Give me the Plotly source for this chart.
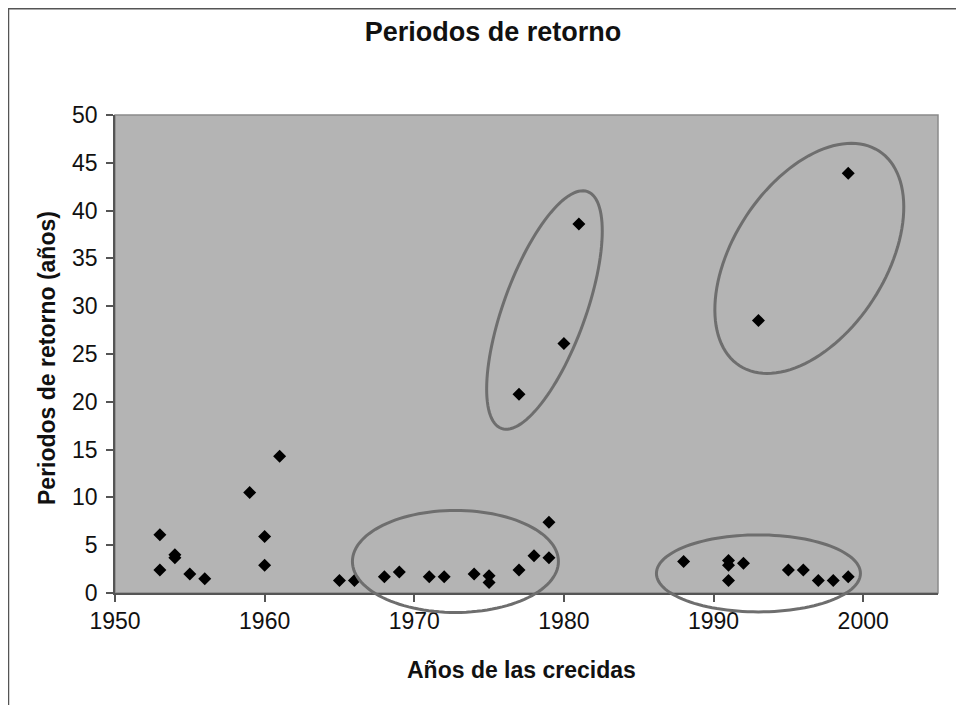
import numpy as np
import plotly.graph_objects as go

# ---- data ----
years = [1953, 1953, 1954, 1954, 1955, 1956, 1959, 1960, 1960, 1961,
         1965, 1966, 1968, 1969, 1971, 1972, 1974, 1975, 1975, 1977,
         1977, 1978, 1979, 1979, 1980, 1981, 1988, 1991, 1991, 1991,
         1992, 1993, 1995, 1996, 1997, 1998, 1999, 1999]
periods = [6.1, 2.4, 3.7, 4.0, 2.0, 1.5, 10.5, 5.9, 2.9, 14.3,
           1.3, 1.3, 1.7, 2.2, 1.7, 1.7, 2.0, 1.8, 1.1, 2.4,
           20.8, 3.9, 3.7, 7.4, 26.1, 38.6, 3.3, 3.4, 2.9, 1.3,
           3.1, 28.5, 2.4, 2.4, 1.3, 1.3, 1.7, 43.9]

x_ticks = [1950, 1960, 1970, 1980, 1990, 2000]
y_ticks = [0, 5, 10, 15, 20, 25, 30, 35, 40, 45, 50]

title = "Periodos de retorno"
x_title = "Años de las crecidas"
y_title = "Periodos de retorno (años)"

# group highlight ellipses: centre (year, value)
ellipse_centres = [(1972.75, 3.3), (1993.0, 2.05), (1978.7, 29.6), (1996.4, 35.0)]

# ---- layout geometry (page has an 8px body margin) ----
OFF = 8
W, H = 964 - OFF, 705 - OFF
ML, MR, MT, MB = 115 - OFF, 26, 115 - OFF, 112
XR = [1950, 2005]
YR = [0, 50]
pw, ph = W - ML - MR, H - MT - MB

# ellipse shape in pixels: semi-major, semi-minor, tilt from vertical (deg)
ellipse_geom = [(103, 51, 90), (102, 38.5, 90), (126, 41, 20), (128, 76, 33)]


def to_paper(x, y):
    return (x - XR[0]) / (XR[1] - XR[0]), (y - YR[0]) / (YR[1] - YR[0])


def page_to_paper(px, py):
    return (px - OFF - ML) / pw, (H - MB - (py - OFF)) / ph


shapes = []
for (cx, cy), (a, b, th) in zip(ellipse_centres, ellipse_geom):
    px0, py0 = to_paper(cx, cy)
    t = np.linspace(0, 2 * np.pi, 121)
    r = np.deg2rad(th)
    ux, uy = np.sin(r), np.cos(r)
    vx, vy = np.cos(r), -np.sin(r)
    dx = a * np.cos(t) * ux + b * np.sin(t) * vx
    dy = a * np.cos(t) * uy + b * np.sin(t) * vy
    xs = px0 + dx / pw
    ys = py0 + dy / ph
    path = "M " + " L ".join(f"{xx:.5f},{yy:.5f}" for xx, yy in zip(xs, ys)) + " Z"
    shapes.append(dict(type="path", xref="paper", yref="paper", path=path,
                       line=dict(color="#6e6e6e", width=3), layer="above"))

# plot-area border
shapes.append(dict(type="rect", xref="paper", yref="paper", x0=0, y0=0, x1=1, y1=1,
                   line=dict(color="#8a8a8a", width=1.5), layer="below"))
# chart-area frame (left and top edges visible)
fx0, fy1 = page_to_paper(8.5, 8.8)
fx1, fy0 = page_to_paper(990, 740)
shapes.append(dict(type="rect", xref="paper", yref="paper",
                   x0=fx0, x1=fx1, y0=fy0, y1=fy1,
                   line=dict(color="#555555", width=1.5), layer="below"))

xt_x, xt_y = page_to_paper(521, 670)
yt_x, yt_y = page_to_paper(47, 358)

fig = go.Figure()
fig.add_trace(go.Scatter(
    x=years, y=periods, mode="markers",
    marker=dict(symbol="diamond", size=10, color="black"),
    cliponaxis=False, showlegend=False))

font = "Liberation Sans, Arial, sans-serif"
fig.update_layout(
    width=W, height=H,
    margin=dict(l=ML, r=MR, t=MT, b=MB),
    paper_bgcolor="white", plot_bgcolor="#b4b4b4",
    font=dict(family=font, color="#111111", size=23),
    title=dict(text="<b>" + title + "</b>", x=(493 - OFF) / W, xref="container",
               xanchor="center", y=1 - (32 - OFF) / H, yref="container", yanchor="middle",
               font=dict(size=27, family=font, color="#111111")),
    shapes=shapes,
    annotations=[
        dict(text="<b>" + x_title + "</b>", xref="paper", yref="paper",
             x=xt_x, y=xt_y, showarrow=False,
             xanchor="center", yanchor="middle", font=dict(size=23)),
        dict(text="<b>" + y_title + "</b>", xref="paper", yref="paper",
             x=yt_x, y=yt_y, showarrow=False,
             textangle=-90, xanchor="center", yanchor="middle", font=dict(size=23)),
    ],
)
fig.update_xaxes(range=XR, tickvals=x_ticks, ticks="outside", ticklen=7, tickwidth=1.5,
                 tickcolor="#555555", showline=True, linecolor="#555555", linewidth=1.5,
                 showgrid=False, zeroline=False, tickfont=dict(size=23))
fig.update_yaxes(range=YR, tickvals=y_ticks, ticks="outside", ticklen=7, tickwidth=1.5,
                 tickcolor="#555555", showline=True, linecolor="#555555", linewidth=1.5,
                 showgrid=False, zeroline=False, tickfont=dict(size=23),
                 ticklabelstandoff=4)

fig.write_html("out.html")
